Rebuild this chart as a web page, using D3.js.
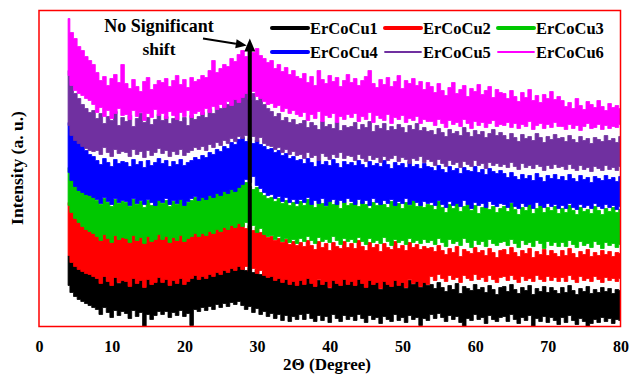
<!DOCTYPE html>
<html>
<head>
<meta charset="utf-8">
<script src="https://cdn.jsdelivr.net/npm/d3@7"></script>
<style>
  html, body { margin: 0; padding: 0; background: #fff; }
  svg { display: block; }
  text { font-family: "Liberation Serif", "Times New Roman", serif; font-weight: bold; fill: #000; }
</style>
</head>
<body>
<svg id="chart" width="630" height="376"></svg>
<script>
// XRD scans, 2θ from 4° to 80°. The noise band of each scan is stored as its
// upper (hi) and lower (lo) envelope, sampled every 0.5°, in arbitrary units.
const thetaStart = 4;
const thetaEnd = 80;
const xTicks = [0, 10, 20, 30, 40, 50, 60, 70, 80];
const seriesNames = ["ErCoCu1", "ErCoCu2", "ErCoCu3", "ErCoCu4", "ErCoCu5", "ErCoCu6"];
const seriesColors = ["#000000", "#ff0000", "#00c800", "#0000ff", "#7030a0", "#ff00ff"];
const legendWidths = [4, 4, 4, 4, 1.8, 1.8];
const shiftAngle = 29;
const shiftLow = 53, shiftHigh = 288;

const cu1Hi = [71,68,66,63,61,59,57,55, 48,44,50,45,41,49,43,47, 46,41,49,43,47,40,48,42,45,50,
  45,48,42,47,44,49,43,46,49,52, 48,51,49,53,51,55,53,57,55,59,57,61, 60,56,59,54,57,52,55,50,
  51,47,50,45,48,43,46,42, 47,43,49,44,40,46,42,45,38,47,43,41,48,42,
  46,41,48,43,39,47,42,45,37,46,43,40,48,42,44,38,46,42,45,39,44,41,
  42,38,44,39,35,41,37,43,33,40,38,36,42,37,39,34,41,37,32,39,
  40,35,42,37,33,39,36,41,32,38,35,40,34,39,36,33,
  39,34,41,36,32,38,35,40,33,37,34,39,35,38,33,37,36];
const cu1Lo = [41,34,30,27,25,23,21,19, 17,12,19,14,9,16,11,15, 13,8,16,10,14,0,12,7,11,15,
  12,15,9,14,11,16,10,13,1,17, 15,19,16,20,17,22,19,23,20,24,22,25, 21,17,20,14,18,12,15,10,
  13,8,12,6,11,5,10,7, 12,7,13,8,5,11,6,10,4,12,8,5,11,7,
  10,6,12,8,4,11,7,9,3,10,7,5,12,6,9,4,11,7,9,1,8,6,
  12,8,13,9,5,11,7,10,4,0,8,6,12,7,9,3,11,7,5,9,
  10,5,12,7,3,9,6,11,0,8,5,10,4,9,6,2,
  9,4,11,6,2,8,5,0,3,7,4,9,5,8,3,7,6];

const cu2Hi = [124,116,110,106,102,99,97,95, 92,88,94,89,85,91,87,90, 89,85,92,87,90,84,91,86,88,93,
  88,91,85,90,87,92,86,89,92,95, 91,94,92,96,94,98,96,100,98,102,101,104, 103,98,101,96,99,94,92,89,
  90,86,88,84,87,82,85,81, 84,80,86,81,77,85,79,83,76,84,80,78,85,79,
  83,78,86,80,76,84,79,82,75,83,79,77,85,78,81,76,84,79,82,77,80,78,
  79,75,81,76,72,78,74,80,70,77,75,73,79,74,76,71,78,74,69,76,
  77,72,79,74,70,76,73,78,69,75,72,77,71,76,73,70,
  76,71,78,73,69,75,72,77,70,74,71,76,72,75,70,74,73];
const cu2Lo = [71,64,60,57,55,53,52,50, 48,43,50,45,41,49,44,46, 45,40,48,43,46,39,47,42,44,49,
  44,47,41,46,43,48,42,45,48,51, 47,50,48,52,50,54,52,56,54,58,56,60, 57,60,55,58,53,56,51,49,
  50,46,48,44,47,42,45,41, 46,42,48,43,40,47,42,45,39,46,43,41,47,42,
  45,41,47,43,39,46,42,44,38,45,42,40,46,41,44,39,47,43,45,40,44,42,
  50,46,52,48,45,51,47,49,44,51,48,46,52,47,49,45,51,47,44,49,
  50,46,51,47,44,50,46,48,45,51,47,45,50,46,49,45,
  49,45,51,47,44,50,46,48,45,50,47,44,49,46,48,45,48];

const cu3Hi = [159,151,146,141,138,135,133,130, 126,122,128,124,120,127,123,125, 124,120,127,122,125,119,126,121,124,128,
  123,126,120,125,122,127,121,124,126,129, 126,130,128,133,131,136,134,138,136,141,139,143, 142,144,140,137,139,134,131,128,
  129,125,128,123,126,121,124,120, 125,121,127,122,119,126,123,120,127,122,125,118,124,121,
  123,126,120,125,122,118,124,121,127,122,119,125,121,123,118,124,121,126,120,123,119,122,
  121,117,125,119,114,122,118,126,115,120,123,116,121,113,119,124,117,120,114,118,
  120,115,123,117,112,119,116,122,113,118,121,114,119,116,120,113,
  118,114,121,116,112,119,115,117,113,120,116,112,118,115,119,114,117];
const cu3Lo = [121,114,108,104,100,97,95,93, 90,86,92,88,84,91,87,89, 88,84,91,86,89,83,90,85,87,92,
  87,90,84,89,86,91,85,88,90,93, 90,93,91,95,93,97,95,99,97,101,99,103, 100,104,97,101,94,98,92,90,
  91,87,90,85,88,84,87,83, 88,85,90,86,83,89,85,87,84,90,86,82,88,85,
  87,84,89,85,82,88,84,86,83,89,85,81,87,84,86,82,88,84,86,83,87,84,
  86,82,88,84,80,87,83,85,81,88,84,79,86,82,85,80,87,83,81,84,
  85,81,87,83,79,86,82,84,80,86,83,78,85,81,84,80,
  84,80,86,82,79,85,81,83,79,85,82,78,84,81,83,79,82];

const cu4Hi = [204,198,191,186,181,176,172,170, 166,162,168,164,160,167,163,165, 164,160,167,162,165,159,166,161,164,168,
  163,166,160,165,162,167,161,164,166,169, 167,171,169,174,172,177,175,180,178,184,182,187, 189,185,188,183,186,182,180,177,
  178,174,176,171,173,168,170,166, 167,163,168,164,160,166,162,165,161,167,163,159,165,162,
  164,161,166,162,159,165,161,163,160,166,162,158,164,161,163,159,165,160,162,158,163,160,
  159,156,161,157,154,160,156,158,153,159,156,155,160,154,157,152,158,155,153,156,
  153,149,154,150,147,152,148,151,146,153,149,145,151,148,152,147,
  150,146,152,148,145,151,147,149,144,150,148,146,151,147,149,145,150];
const cu4Lo = [154,146,140,136,134,132,131,129, 127,123,129,125,122,128,124,126, 125,121,128,123,126,122,127,124,121,126,
  124,128,122,126,123,127,121,125,128,130, 126,129,127,131,129,133,131,135,133,137,135,139, 142,147,144,150,141,138,134,131,
  132,128,130,125,129,124,127,123, 127,124,129,122,126,123,128,121,125,127,122,126,124,128,
  125,122,127,123,126,121,128,124,122,126,123,127,121,125,123,128,122,126,124,121,125,123,
  124,121,126,122,119,125,121,123,120,126,122,118,124,121,123,119,125,122,120,123,
  122,119,124,120,118,123,120,122,118,124,121,119,123,120,122,118,
  121,118,123,119,117,122,119,121,118,123,120,118,122,119,121,117,120];

const cu5Hi = [256,243,233,228,222,218,214,216, 208,213,203,210,206,215,201,209, 205,211,200,208,213,204,209,202,207,212,
  206,210,203,208,214,205,209,201,211,207, 210,214,209,217,213,220,218,224,222,229,227,233, 231,236,228,233,226,229,222,218,
  215,210,213,206,209,204,207,202, 203,206,199,204,201,197,205,200,202,198,204,196,201,199,
  200,204,197,202,199,205,195,201,198,203,196,200,197,202,199,194,201,197,203,196,199,195,
  196,192,198,194,190,197,193,195,191,199,194,190,196,192,195,189,193,197,191,194,
  191,187,193,189,185,192,188,190,186,193,189,184,190,187,192,188,
  189,185,191,187,184,190,186,188,183,189,187,185,191,186,188,184,190];
const cu5Lo = [201,191,186,183,180,178,176,175, 176,172,179,174,170,177,173,175, 174,170,177,172,175,169,176,171,174,178,
  173,176,170,175,172,177,171,174,176,179, 177,180,176,182,179,184,181,186,183,188,185,190, 188,191,186,190,185,189,183,181,
  180,177,179,174,177,172,175,171, 172,168,174,169,171,166,173,170,167,172,169,174,168,171,
  170,166,172,168,165,171,167,169,164,170,166,168,171,165,169,167,163,168,166,170,164,167,
  165,161,167,163,160,166,162,164,159,165,162,160,166,161,163,158,164,161,163,160,
  162,159,164,160,157,163,159,161,158,162,160,156,161,158,162,159,
  160,157,162,158,156,161,157,159,155,160,158,156,161,157,159,156,160];

const cu6Hi = [308,294,288,280,276,270,266,262, 254,246,250,241,248,252,244,262, 243,238,247,240,235,245,249,237,242,246,
  244,248,240,246,251,242,247,239,249,245, 247,251,249,256,266,254,258,262,260,268,265,272, 276,270,281,274,278,271,268,264,
  266,258,262,255,259,252,256,250, 248,253,244,250,241,256,247,243,251,245,249,240,246,252,
  244,248,241,246,250,256,243,239,247,242,249,240,245,251,238,246,243,248,241,245,237,244,
  240,234,243,236,231,239,244,233,237,241,230,238,235,242,232,236,240,229,237,234,
  233,228,236,230,225,234,229,237,226,231,224,232,228,235,227,230,
  226,220,224,218,228,221,217,225,222,219,226,220,216,223,219,221,218];
const cu6Lo = [251,241,236,233,231,228,226,222, 214,219,210,216,208,213,218,211, 212,207,216,210,214,206,213,209,217,211,
  213,208,215,211,207,214,210,216,209,213, 215,212,218,214,220,217,222,219,225,221,227,224, 229,233,227,235,230,228,225,222,
  223,219,221,215,218,213,216,212, 210,214,206,212,208,215,205,211,209,213,204,210,207,212,
  209,213,205,210,207,214,204,211,208,206,212,203,209,207,211,204,208,206,210,203,207,205,
  205,201,207,203,199,206,202,204,200,207,203,198,205,201,204,199,203,206,200,202,
  201,204,199,203,198,202,200,205,197,201,203,198,202,199,204,200,
  200,197,202,198,201,196,200,203,198,199,202,197,201,198,200,199,202];

const scans = [
  { hi: cu1Hi, lo: cu1Lo }, { hi: cu2Hi, lo: cu2Lo }, { hi: cu3Hi, lo: cu3Lo },
  { hi: cu4Hi, lo: cu4Lo }, { hi: cu5Hi, lo: cu5Lo }, { hi: cu6Hi, lo: cu6Lo }
];

const svg = d3.select("#chart");
const plot = { left: 39, right: 620.5, top: 10.5, bottom: 326.5 };

const x = d3.scaleLinear().domain([0, 80]).range([plot.left, plot.right]);
const y = d3.scaleLinear().domain([0, 316]).range([plot.bottom, plot.top]);

svg.append("defs").append("clipPath").attr("id", "plotClip")
  .append("rect")
  .attr("x", plot.left).attr("y", plot.top)
  .attr("width", plot.right - plot.left).attr("height", plot.bottom - plot.top);

// Pair every 2θ sample with its upper and lower envelope value
function band(scan) {
  const n = scan.hi.length;
  const step = (thetaEnd - thetaStart) / (n - 1);
  return scan.hi.map((v, i) => ({ theta: thetaStart + i * step, hi: v, lo: scan.lo[i] }));
}

const area = d3.area()
  .curve(d3.curveStep)
  .x(d => x(d.theta))
  .y0(d => y(d.lo))
  .y1(d => y(d.hi));

const traces = svg.append("g").attr("clip-path", "url(#plotClip)");
scans.forEach((scan, k) => {
  traces.append("path")
    .datum(band(scan))
    .attr("d", area)
    .attr("fill", seriesColors[k])
    .attr("stroke", seriesColors[k])
    .attr("stroke-width", 0.8);
});

// Marker line at the main reflection
svg.append("line")
  .attr("x1", x(shiftAngle)).attr("x2", x(shiftAngle))
  .attr("y1", y(shiftLow)).attr("y2", y(shiftHigh) + 10)
  .attr("stroke", "#000").attr("stroke-width", 4);
svg.append("path")
  .attr("d", `M${x(shiftAngle)},${y(shiftHigh)} L${x(shiftAngle) - 5.5},${y(shiftHigh) + 13} L${x(shiftAngle) + 5.5},${y(shiftHigh) + 13} Z`)
  .attr("fill", "#000");

// Annotation
svg.append("text").attr("x", 159).attr("y", 32).attr("text-anchor", "middle")
  .style("font-size", "18px").text("No Significant");
svg.append("text").attr("x", 159).attr("y", 55).attr("text-anchor", "middle")
  .style("font-size", "17.5px").text("shift");

const ax0 = 203, ay0 = 38.5;
const ax1 = x(shiftAngle) - 3, ay1 = y(shiftHigh) + 7;
const ang = Math.atan2(ay1 - ay0, ax1 - ax0);
const headLen = 11, headHalf = 4.5;
const bx = ax1 - headLen * Math.cos(ang), by = ay1 - headLen * Math.sin(ang);
svg.append("line")
  .attr("x1", ax0).attr("y1", ay0).attr("x2", bx).attr("y2", by)
  .attr("stroke", "#000").attr("stroke-width", 2);
svg.append("path")
  .attr("d", `M${ax1},${ay1} L${bx - headHalf * Math.sin(ang)},${by + headHalf * Math.cos(ang)} L${bx + headHalf * Math.sin(ang)},${by - headHalf * Math.cos(ang)} Z`)
  .attr("fill", "#000");

// Legend: two rows of three
const legendCols = [272, 385, 498];
const legendRows = [28, 52];
seriesNames.forEach((name, k) => {
  const cx = legendCols[k % 3];
  const cy = legendRows[Math.floor(k / 3)];
  const g = svg.append("g");
  g.append("line")
    .attr("x1", cx).attr("x2", cx + 36)
    .attr("y1", cy).attr("y2", cy)
    .attr("stroke", seriesColors[k])
    .attr("stroke-width", legendWidths[k])
    .attr("stroke-linecap", "round");
  g.append("text")
    .attr("x", cx + 38).attr("y", cy + 5.5)
    .style("font-size", "16.5px")
    .text(name);
});

// Bottom axis: labels only
const xAxis = d3.axisBottom(x).tickValues(xTicks).tickSize(0).tickPadding(14.5).tickFormat(d3.format("d"));
const axisG = svg.append("g").attr("transform", `translate(0,${plot.bottom})`).call(xAxis);
axisG.select(".domain").remove();
axisG.selectAll("text")
  .style("font-family", "'Liberation Serif', 'Times New Roman', serif")
  .style("font-weight", "bold")
  .style("font-size", "16px")
  .attr("fill", "#000");

svg.append("text")
  .attr("x", 327).attr("y", 370).attr("text-anchor", "middle")
  .style("font-size", "17px")
  .text("2Θ (Degree)");

svg.append("text")
  .attr("transform", "translate(23,168) rotate(-90)")
  .attr("text-anchor", "middle")
  .style("font-size", "17.5px")
  .text("Intensity (a. u.)");

// Plot frame
svg.append("rect")
  .attr("x", plot.left).attr("y", plot.top)
  .attr("width", plot.right - plot.left).attr("height", plot.bottom - plot.top)
  .attr("fill", "none").attr("stroke", "#ff0000").attr("stroke-width", 1.5);
</script>
</body>
</html>
